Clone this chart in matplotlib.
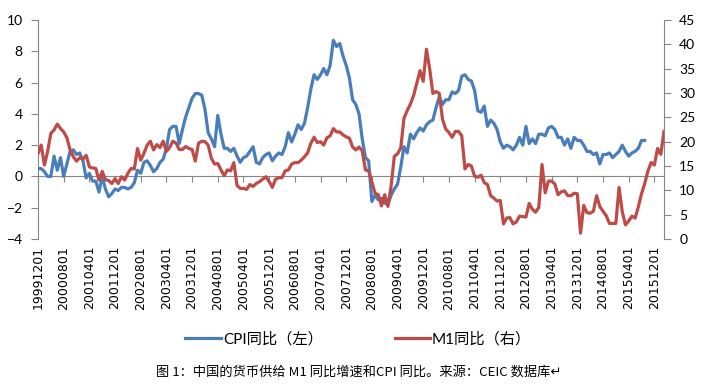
import numpy as np
import pandas as pd
import matplotlib
matplotlib.use('Agg')
import matplotlib.pyplot as plt

# 月份（横轴类别），每 8 个月一个标签
months = pd.date_range('1999-12-01', periods=196, freq='MS')
labels = months[::8].strftime('%Y%m%d')

# CPI 同比（左轴）
cpi = [0.5, 0.5, 0.3, 0.0, 0.0, 1.3, 0.4,
       1.2, 0.0, 0.8, 1.6, 1.7, 1.4, 1.5, 1.0, -0.1, 0.2, -0.3, -0.3,
       -1.0, 0.0, -0.8, -1.3, -1.1, -0.8, -0.9, -0.7, -0.7, -0.8, -0.7, -0.4,
       0.4, 0.2, 0.9, 1.0, 0.7, 0.3, 0.5, 0.9, 1.1, 1.8, 3.0, 3.2,
       3.2, 2.1, 3.0, 3.8, 4.4, 5.0, 5.3, 5.3, 5.2, 4.3, 2.8, 2.4,
       1.9, 3.9, 2.7, 1.8, 1.8, 1.6, 1.8, 1.3, 0.9, 1.2, 1.3, 1.6,
       1.9, 0.9, 0.8, 1.2, 1.4, 1.5, 1.0, 1.3, 1.5, 1.4, 1.9, 2.8,
       2.2, 2.7, 3.3, 3.0, 3.4, 4.4, 5.6, 6.5, 6.2, 6.5, 6.9, 6.5,
       7.1, 8.7, 8.3, 8.5, 7.7, 7.1, 6.3, 4.9, 4.6, 4.0, 2.4, 1.2,
       1.0, -1.6, -1.2, -1.5, -1.4, -1.7, -1.8, -1.2, -0.8, -0.5, 0.6, 1.9,
       1.5, 2.7, 2.4, 2.8, 3.1, 2.9, 3.3, 3.5, 3.6, 4.4, 5.1, 4.6,
       4.9, 4.9, 5.4, 5.3, 5.5, 6.4, 6.5, 6.2, 6.1, 5.5, 4.2, 4.1,
       4.5, 3.2, 3.6, 3.4, 3.0, 2.2, 1.8, 2.0, 1.9, 1.7, 2.0, 2.5,
       2.0, 3.2, 2.1, 2.4, 2.1, 2.7, 2.7, 2.6, 3.1, 3.2, 3.0, 2.5,
       2.5, 2.0, 2.4, 1.8, 2.5, 2.3, 2.3, 2.0, 1.6, 1.6, 1.4, 1.5,
       0.8, 1.4, 1.4, 1.5, 1.2, 1.4, 1.6, 2.0, 1.6, 1.3, 1.5, 1.6,
       1.8, 2.3, 2.3]

# M1 同比（右轴）
m1 = [17.6, 19.3, 15.2, 18.0, 21.7, 22.4, 23.6, 22.7, 22.0, 20.8, 18.3, 16.9,
      16.0, 16.7, 16.4, 17.2, 14.8, 14.6, 14.5, 12.1, 13.9, 12.2, 12.0, 11.4,
      12.4, 11.4, 12.8, 12.1, 13.5, 14.5, 14.4, 18.6, 16.2, 17.6, 19.3, 20.1,
      18.3, 19.4, 18.8, 20.1, 18.0, 18.8, 20.1, 19.7, 18.4, 18.4, 19.0, 18.6,
      18.4, 16.0, 19.7, 20.1, 20.0, 19.3, 16.6, 15.4, 15.5, 14.2, 13.0, 14.2,
      14.0, 15.7, 11.0, 10.4, 10.4, 10.2, 11.2, 10.8, 11.4, 11.8, 12.3, 12.8,
      11.8, 10.6, 12.3, 12.6, 12.6, 14.0, 14.2, 15.4, 15.7, 15.7, 16.2, 16.9,
      17.7, 19.7, 20.9, 19.8, 20.0, 19.3, 20.8, 21.2, 22.7, 22.0, 22.0, 21.4,
      21.0,
      20.7, 18.9, 18.3, 18.9, 18.1, 14.2, 14.0, 11.7, 9.4, 9.1, 6.8, 9.1,
      6.7, 10.9, 17.0, 17.5, 18.7, 24.8, 26.4, 27.7, 29.5, 32.0, 34.6, 32.4,
      39.0, 35.0, 29.9, 30.3, 29.9, 24.6, 22.6, 21.9, 20.9, 22.1, 22.1, 21.2,
      14.4, 15.3, 15.0, 12.9, 12.7, 13.1, 11.6, 11.2, 8.9, 8.4, 7.8, 7.9,
      3.1, 4.3, 4.4, 3.1, 3.5, 4.7, 4.6, 4.5, 7.3, 6.1, 5.5, 6.5,
      15.3, 9.5, 11.9, 11.9, 11.3, 9.1, 9.7, 9.9, 8.9, 8.9, 9.4, 9.3,
      1.2, 6.9, 5.4, 5.3, 5.7, 8.9, 6.7, 5.7, 4.8, 3.2, 3.2, 3.2,
      10.6, 5.6, 2.9, 3.7, 4.7, 4.3, 6.6, 9.3, 11.4, 14.0, 15.7, 15.2,
      18.6, 17.4, 22.1]

plt.rcParams['font.family'] = ['Lato', 'Noto Sans CJK SC', 'DejaVu Sans']
gray = '#868686'
blue = '#4A7EBB'
red = '#BE4B48'

fig = plt.figure(figsize=(7.04, 3.84), dpi=100)
ax = fig.add_axes([38/704, 1-239/384, (664-38)/704, (239-20)/384])
ax2 = ax.twinx()

x = np.arange(len(months))
ax.plot(x[:len(cpi)], cpi, color=blue, lw=2.3, zorder=3, label='CPI同比（左）')
ax2.plot(x, m1, color=red, lw=2.3, label='M1同比（右）')

ax.set_xlim(0, len(months) - 1)
ax.set_ylim(-4, 10)
ax2.set_ylim(0, 45)
ax.set_yticks(np.arange(-4, 11, 2))
ax2.set_yticks(np.arange(0, 46, 5))

for s in ['top', 'right']:
    ax.spines[s].set_visible(False)
for s in ['top', 'left', 'bottom']:
    ax2.spines[s].set_visible(False)
ax.spines['bottom'].set_position(('data', 0))
ax.spines['bottom'].set_color(gray)
ax.spines['left'].set_color(gray)
ax2.spines['right'].set_color(gray)

ax.set_xticks(x[::8])
ax.tick_params(axis='x', direction='out', length=4, color=gray, labelbottom=False)
ax.tick_params(axis='y', direction='out', length=5, color=gray, labelsize=10, pad=6)
ax2.tick_params(axis='y', direction='out', length=5, color=gray, labelsize=10, pad=6)

sec = ax.secondary_xaxis('bottom')
sec.set_xticks(x[::8], labels=labels)
sec.tick_params(length=0, pad=5)
sec.spines['bottom'].set_visible(False)
for t in sec.get_xticklabels():
    t.set_rotation(90)
    t.set_fontfamily('DejaVu Sans')
    t.set_fontsize(9)

h1, l1 = ax.get_legend_handles_labels()
h2, l2 = ax2.get_legend_handles_labels()
fig.legend(h1 + h2, l1 + l2, loc='center', bbox_to_anchor=(0.509, 0.117), ncol=2,
           frameon=False, fontsize=11, handlelength=2.3, handletextpad=0.15,
           columnspacing=4.7)

fig.text(0.51, 1 - 372/384, '图 1：中国的货币供给 M1 同比增速和CPI 同比。来源：CEIC 数据库↵',
         ha='center', va='center', fontsize=9.5,
         family=['Noto Sans CJK SC', 'DejaVu Sans'])

fig.savefig('out.png', dpi=100)
